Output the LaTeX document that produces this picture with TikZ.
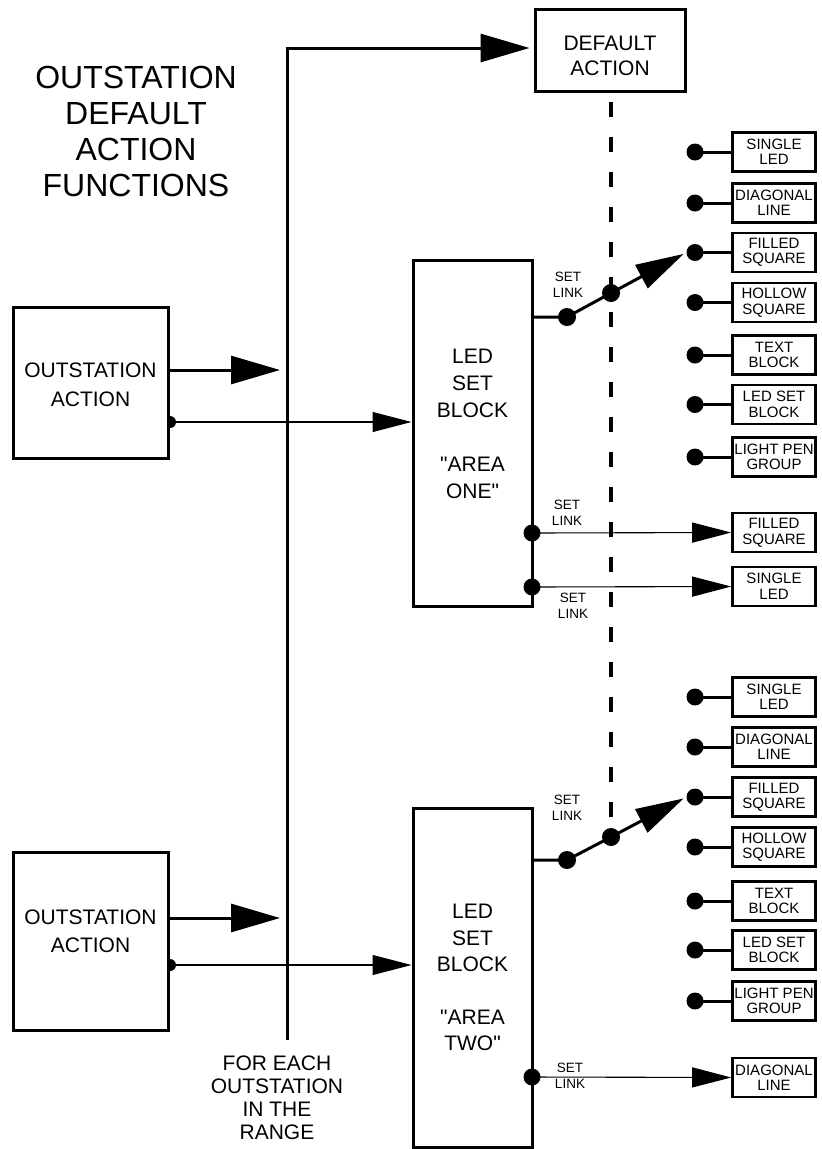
\documentclass[tikz,border=0pt]{standalone}
\usepackage{fontspec}
\setmainfont{Liberation Sans}
% same face without the TeX quote mapping, for straight double quotes
\newfontfamily\plainface{Liberation Sans}
\newcommand{\dq}{{\plainface"}}
\usetikzlibrary{arrows.meta,shadows}

\begin{document}
\begin{tikzpicture}[x=1pt,y=-1pt,
  thickln/.style={line width=3pt},
  thinln/.style={line width=1.1pt},
  dashln/.style={line width=3.4pt,dash pattern=on 15pt off 20pt},
  bigbox/.style={draw,line width=3pt,fill=white,inner sep=0pt},
  bigtext/.style={align=center,inner sep=0pt,font=\fontsize{21}{27}\selectfont},
  smallbox/.style={draw,line width=2.6pt,fill=white,align=center,inner sep=0pt,
    minimum width=83pt,minimum height=39pt,font=\fontsize{15}{15.5}\selectfont,
    drop shadow={shadow xshift=1.4pt,shadow yshift=-1.4pt,opacity=1,fill=black}},
  linklabel/.style={align=center,inner sep=0pt,font=\fontsize{13.5}{16.5}\selectfont},
  dot/.style={circle,fill=black,inner sep=0pt,minimum size=18pt},
  smalldot/.style={circle,fill=black,inner sep=0pt,minimum size=17pt},
  pin/.style={circle,fill=black,inner sep=0pt,minimum size=12pt},
  bigarrow/.style={-{Triangle[length=49pt,width=28pt]}},
  swarrow/.style={-{Triangle[length=48pt,width=26pt]}},
  thinarrow/.style={-{Triangle[length=39pt,width=20pt]}}
]
\useasboundingbox (0,0) rectangle (822,1149);

% heading
\node[align=center,inner sep=0pt,font=\fontsize{32}{36}\selectfont] (title) at (136,131)
  {OUTSTATION\\DEFAULT\\ACTION\\FUNCTIONS};

% default action box
\node[bigbox,minimum width=150pt,minimum height=82pt] (da) at (610,50) {};
\node[align=center,inner sep=0pt,font=\fontsize{21}{24.5}\selectfont] (datxt) at (610,56)
  {DEFAULT\\ACTION};

% outstation action boxes
\node[pin] (p1) at (170,422) {};
\node[pin] (p2) at (170,965) {};
\node[bigbox,minimum width=155pt,minimum height=151pt] (oa1) at (90.5,382.5) {};
\node[bigtext,font=\fontsize{21}{29}\selectfont] (oa1txt) at (90.5,385) {OUTSTATION\\ACTION};
\node[bigbox,minimum width=155pt,minimum height=178pt] (oa2) at (90.5,941) {};
\node[bigtext,font=\fontsize{21}{28}\selectfont] (oa2txt) at (90.5,931) {OUTSTATION\\ACTION};

% LED set blocks
\node[bigbox,minimum width=119pt,minimum height=346pt] (led1) at (472.5,433) {};
\node[bigtext] (led1txt) at (472.5,424) {LED\\SET\\BLOCK\\[27pt]\dq AREA\\ONE\dq};
\node[bigbox,minimum width=119pt,minimum height=339pt] (led2) at (472.5,977.5) {};
\node[bigtext,font=\fontsize{21}{26.3}\selectfont] (led2txt) at (472.5,977.5)
  {LED\\SET\\BLOCK\\[26.3pt]\dq AREA\\TWO\dq};

% bus running to the default action
\coordinate (busTop) at (287,48);
\coordinate (busEnd) at (287,1040);
\draw[thickln,bigarrow,shorten >=4pt] (busEnd) -- (busTop) -- (da.west |- busTop);
\node[align=center,inner sep=0pt,font=\fontsize{21}{23}\selectfont] (range) at (277,1097.5)
  {FOR EACH\\OUTSTATION\\IN THE\\RANGE};

% outstation actions into the bus and into the LED set blocks
\coordinate (in1) at (280,370);
\coordinate (in2) at (280,918);
\draw[thickln,bigarrow] (oa1.east |- in1) -- (in1);
\draw[thickln,bigarrow] (oa2.east |- in2) -- (in2);
\draw[thinln,thinarrow] (p1.center) -- (led1.west |- p1);
\draw[thinln,thinarrow] (p2.center) -- (led2.west |- p2);

% right-hand option boxes, upper group
\node[smallbox] (u1) at (774,152) {SINGLE\\LED};
\node[smallbox] (u2) at (774,203) {DIAGONAL\\LINE};
\node[smallbox] (u3) at (774,252.5) {FILLED\\SQUARE};
\node[smallbox] (u4) at (774,302.5) {HOLLOW\\SQUARE};
\node[smallbox] (u5) at (774,355) {TEXT\\BLOCK};
\node[smallbox] (u6) at (774,404.5) {LED SET\\BLOCK};
\node[smallbox] (u7) at (774,457) {LIGHT PEN\\GROUP};
\node[smallbox] (u8) at (774,532.5) {FILLED\\SQUARE};
\node[smallbox] (u9) at (774,586.5) {SINGLE\\LED};

% right-hand option boxes, lower group
\node[smallbox] (l1) at (774,697) {SINGLE\\LED};
\node[smallbox] (l2) at (774,747) {DIAGONAL\\LINE};
\node[smallbox] (l3) at (774,797) {FILLED\\SQUARE};
\node[smallbox] (l4) at (774,847) {HOLLOW\\SQUARE};
\node[smallbox] (l5) at (774,901) {TEXT\\BLOCK};
\node[smallbox] (l6) at (774,950) {LED SET\\BLOCK};
\node[smallbox] (l7) at (774,1001) {LIGHT PEN\\GROUP};
\node[smallbox] (l8) at (774,1077.5) {DIAGONAL\\LINE};

% selector contacts
\foreach \b in {u1,u2,u3,u4,u5,u6,u7,l1,l2,l3,l4,l5,l6,l7}{
  \node[smalldot] (c\b) at (695,0 |- \b) {};
  \draw[thickln] (c\b.center) -- (\b.west);
}

% switches and the default-action dashed link
\node[dot] (s1a) at (567,317) {};
\node[dot] (s1b) at (611,293) {};
\node[dot] (s2a) at (567,860) {};
\node[dot] (s2b) at (611,837) {};
\coordinate (dtop) at (611,102);
\draw[dashln] (dtop) -- (s2b.center);
\draw[thickln] (led1.east |- s1a) -- (s1a.center) -- (s1b.center);
\draw[thickln,swarrow,shorten >=3pt] (s1b.center) -- (cu3.west);
\draw[thickln] (led2.east |- s2a) -- (s2a.center) -- (s2b.center);
\draw[thickln,swarrow,shorten >=3pt] (s2b.center) -- (cl3.west);
\node[linklabel] (k1) at (568,285) {SET\\LINK};
\node[linklabel] (k4) at (567,808) {SET\\LINK};

% fixed set links
\node[dot,minimum size=17pt] (f1) at (532,533) {};
\node[dot,minimum size=17pt] (f2) at (532,587) {};
\node[dot,minimum size=17pt] (f3) at (532,1077) {};
\draw[thinln,thinarrow] (f1.center) -- (u8.west);
\draw[thinln,thinarrow] (f2.center) -- (u9.west);
\draw[thinln,thinarrow] (f3.center) -- (l8.west);
\node[linklabel] (k2) at (567,513) {SET\\LINK};
\node[linklabel] (k3) at (573,606) {SET\\LINK};
\node[linklabel] (k5) at (570,1076) {SET\\LINK};
\end{tikzpicture}
\end{document}
